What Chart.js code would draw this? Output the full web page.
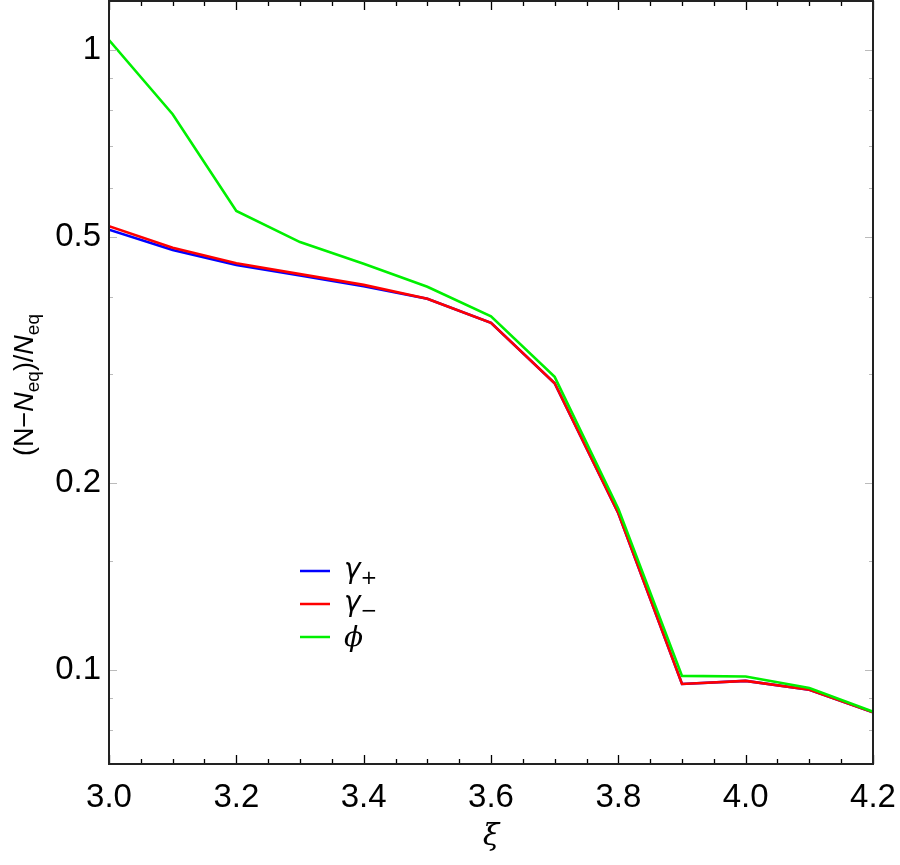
<!DOCTYPE html>
<html>
<head>
<meta charset="utf-8">
<script src="https://cdn.jsdelivr.net/npm/chart.js@4"></script>
<style>
  html, body { margin: 0; padding: 0; background: #fff; }
  #wrap { width: 900px; height: 865px; }
</style>
</head>
<body>
<div id="wrap"><canvas id="chart" width="900" height="865"></canvas></div>
<script>
// xi values (shared by all series)
const xiValues = [3.0, 3.1, 3.2, 3.3, 3.4, 3.5, 3.6, 3.7, 3.8, 3.9, 4.0, 4.1, 4.2];

// (N - Neq)/Neq
const gammaPlus  = [0.513, 0.476, 0.450, 0.433, 0.416, 0.397, 0.363, 0.290, 0.179, 0.0949, 0.0960, 0.0929, 0.0854];
const gammaMinus = [0.520, 0.480, 0.453, 0.435, 0.418, 0.397, 0.363, 0.290, 0.179, 0.0949, 0.0960, 0.0929, 0.0854];
const phiValues  = [1.038, 0.788, 0.550, 0.490, 0.452, 0.415, 0.372, 0.297, 0.182, 0.0978, 0.0976, 0.0935, 0.0856];

const xMajorTicks = [3.0, 3.2, 3.4, 3.6, 3.8, 4.0, 4.2];
const xMinorTicks = [3.05, 3.1, 3.15, 3.25, 3.3, 3.35, 3.45, 3.5, 3.55, 3.65, 3.7, 3.75, 3.85, 3.9, 3.95, 4.05, 4.1, 4.15];
const yMajorTicks = [0.1, 0.2, 0.5, 1];
const yMinorTicks = [0.08, 0.09, 0.15, 0.3, 0.4, 0.6, 0.7, 0.8, 0.9];

const seriesNames = ['+', '\u2212', 'phi'];

const toPoints = vals => vals.map((v, i) => ({ x: xiValues[i], y: v }));

function drawRuns(ctx, runs, x, y) {
    // draws a list of text runs left to right, returns end x
    runs.forEach(r => {
        ctx.font = r.font;
        ctx.fillText(r.t, x, y + (r.dy || 0));
        x += ctx.measureText(r.t).width;
    });
    return x;
}

function runsWidth(ctx, runs) {
    let w = 0;
    runs.forEach(r => { ctx.font = r.font; w += ctx.measureText(r.t).width; });
    return w;
}

const decorPlugin = {
    id: 'decor',
    afterDraw(chart) {
        const ctx = chart.ctx;
        const a = chart.chartArea;
        const xs = chart.scales.x;
        const ys = chart.scales.y;
        ctx.save();

        // x ticks (inward, top and bottom)
        ctx.strokeStyle = '#000';
        ctx.lineWidth = 1.3;
        const xTick = (v, len) => {
            const px = Math.round(xs.getPixelForValue(v)) + 0.5;
            ctx.beginPath();
            ctx.moveTo(px, a.bottom); ctx.lineTo(px, a.bottom - len);
            ctx.moveTo(px, a.top); ctx.lineTo(px, a.top + len);
            ctx.stroke();
        };
        xMajorTicks.forEach(v => xTick(v, 9));
        xMinorTicks.forEach(v => xTick(v, 5));

        // y ticks (light grey, inward, left and right)
        ctx.strokeStyle = '#bbb';
        ctx.lineWidth = 1;
        const yTick = (v, len) => {
            const py = Math.round(ys.getPixelForValue(v)) + 0.5;
            ctx.beginPath();
            ctx.moveTo(a.left, py); ctx.lineTo(a.left + len, py);
            ctx.moveTo(a.right, py); ctx.lineTo(a.right - len, py);
            ctx.stroke();
        };
        yMajorTicks.forEach(v => yTick(v, 8));
        yMinorTicks.forEach(v => yTick(v, 4));

        // frame
        ctx.strokeStyle = '#222';
        ctx.lineWidth = 2;
        ctx.strokeRect(a.left, a.top, a.right - a.left, a.bottom - a.top);

        // axis titles
        ctx.fillStyle = '#000';
        ctx.textBaseline = 'alphabetic';
        ctx.font = 'italic 30px "DejaVu Serif"';
        ctx.textAlign = 'center';
        ctx.fillText('\u03BE', (a.left + a.right) / 2, 845);

        ctx.textAlign = 'left';
        const big = '27px "Liberation Sans"';
        const bigIt = 'italic 27px "Liberation Sans"';
        const sub = '19px "Liberation Sans"';
        const yTitle = [
            { t: '(N\u2212', font: big },
            { t: 'N', font: bigIt },
            { t: 'eq', font: sub, dy: 6 },
            { t: ')/', font: big },
            { t: 'N', font: bigIt },
            { t: 'eq', font: sub, dy: 6 }
        ];
        const w = runsWidth(ctx, yTitle);
        ctx.save();
        ctx.translate(33, 385);
        ctx.rotate(-Math.PI / 2);
        drawRuns(ctx, yTitle, -w / 2, 0);
        ctx.restore();

        // legend
        const legendY = [571, 604, 637];
        chart.data.datasets.forEach((ds, i) => {
            const ly = legendY[i];
            ctx.strokeStyle = ds.borderColor;
            ctx.lineWidth = 2.5;
            ctx.beginPath();
            ctx.moveTo(300, ly); ctx.lineTo(330, ly);
            ctx.stroke();
            ctx.fillStyle = '#000';
            const name = seriesNames[i];
            if (name === 'phi') {
                ctx.font = 'italic 28px "DejaVu Serif"';
                ctx.fillText('\u03D5', 344, ly + 9);
            } else {
                drawRuns(ctx, [
                    { t: '\u03B3', font: 'italic 28px "DejaVu Sans"' },
                    { t: name, font: '20px "DejaVu Sans"', dy: 6 }
                ], 344, ly + 7);
            }
        });

        ctx.restore();
    }
};

new Chart(document.getElementById('chart'), {
    type: 'line',
    data: {
        datasets: [
            { label: '\u03B3+', data: toPoints(gammaPlus), borderColor: '#0000ff', order: 3 },
            { label: '\u03B3\u2212', data: toPoints(gammaMinus), borderColor: '#ff0000', order: 2 },
            { label: '\u03D5', data: toPoints(phiValues), borderColor: '#00f000', order: 1 }
        ].map(ds => Object.assign(ds, { borderWidth: 2.6, pointRadius: 0, tension: 0, fill: false }))
    },
    options: {
        responsive: false,
        animation: false,
        layout: { padding: { top: 1, right: 27, left: 0, bottom: 0 } },
        plugins: { legend: { display: false }, tooltip: { enabled: false } },
        scales: {
            x: {
                type: 'linear',
                min: 3.0,
                max: 4.2,
                grid: { display: false, drawTicks: false },
                border: { display: false },
                afterBuildTicks: s => { s.ticks = xMajorTicks.map(v => ({ value: v })); },
                afterFit: s => { s.height = 101; s.paddingLeft = 0; s.paddingRight = 0; },
                ticks: {
                    autoSkip: false,
                    maxRotation: 0,
                    padding: 14,
                    color: '#000',
                    font: { family: '"Liberation Sans"', size: 33 },
                    callback: v => v.toFixed(1)
                }
            },
            y: {
                type: 'logarithmic',
                min: 0.0705,
                max: 1.2,
                grid: { display: false, drawTicks: false },
                border: { display: false },
                afterBuildTicks: s => { s.ticks = yMajorTicks.map(v => ({ value: v })); },
                afterFit: s => { s.width = 109; s.paddingTop = 0; s.paddingBottom = 0; },
                ticks: {
                    autoSkip: false,
                    padding: 8,
                    color: '#000',
                    font: { family: '"Liberation Sans"', size: 33 },
                    callback: v => (v === 1 ? '1' : String(v))
                }
            }
        }
    },
    plugins: [decorPlugin]
});
</script>
</body>
</html>
